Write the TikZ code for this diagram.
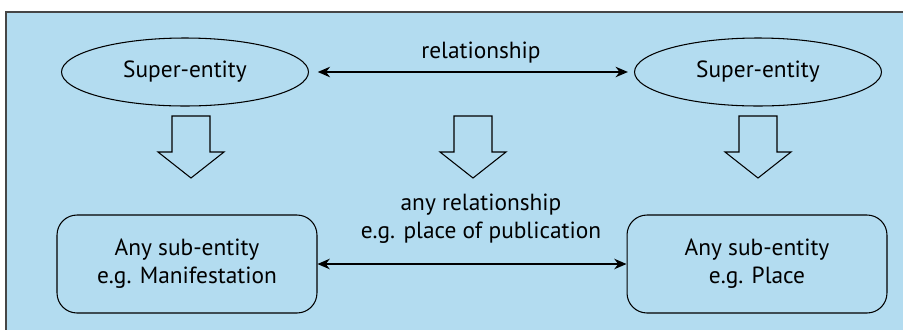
\documentclass[tikz,border=0pt]{standalone}
\usepackage{fontspec}
\setmainfont{PT Sans}
\usepackage{tikz}
\usetikzlibrary{shapes.geometric,arrows.meta}

\definecolor{panelblue}{RGB}{179,220,240}
\definecolor{panelline}{RGB}{70,70,70}

\tikzset{
  superent/.style={draw, ellipse, minimum width=4.94cm, minimum height=1.36cm, line width=0.6pt},
  subent/.style={draw, rounded corners=0.4cm, minimum width=5.2cm, minimum height=1.96cm, align=center, line width=0.6pt},
  rel/.style={{Stealth[length=7pt,width=6pt]}-{Stealth[length=7pt,width=6pt]}, line width=0.6pt},
  blockarrow/.style={draw, line width=0.6pt, line join=miter},
  lbl/.style={align=center, inner sep=0pt}
}

\begin{document}
\begin{tikzpicture}[x=0.02cm, y=-0.02cm, font=\fontsize{13.3}{16}\selectfont]
\useasboundingbox (0,0) rectangle (903,329);
\clip (0,0) rectangle (903,329);
\fill[panelblue] (6,12) rectangle (920,340);
\draw[panelline, line width=0.6pt] (6,340) -- (6,12) -- (920,12);

% super-entities
\node[superent] (supL) at (185,72) {Super-entity};
\node[superent] (supR) at (758,72) {Super-entity};
\draw[rel, shorten <=5pt, shorten >=3.5pt] (supL) -- (supR);
\node[lbl] (relA) at (481,53) {relationship};

% block arrows
\draw[blockarrow] (172,116) -- ++(38,0) -- ++(0,36) -- ++(14,0) -- ++(-33,26) -- ++(-33,-26) -- ++(14,0) -- cycle;
\draw[blockarrow] (454,116) -- ++(38,0) -- ++(0,36) -- ++(14,0) -- ++(-33,26) -- ++(-33,-26) -- ++(14,0) -- cycle;
\draw[blockarrow] (739,116) -- ++(38,0) -- ++(0,36) -- ++(14,0) -- ++(-33,26) -- ++(-33,-26) -- ++(14,0) -- cycle;

% sub-entities
\node[subent] (subL) at (187,264) {Any sub-entity\\e.g. Manifestation};
\node[subent] (subR) at (757,264) {Any sub-entity\\e.g. Place};
\draw[rel] (subL) -- (subR);
\node[lbl] (relB) at (481,219) {any relationship\\e.g. place of publication};
\end{tikzpicture}
\end{document}
